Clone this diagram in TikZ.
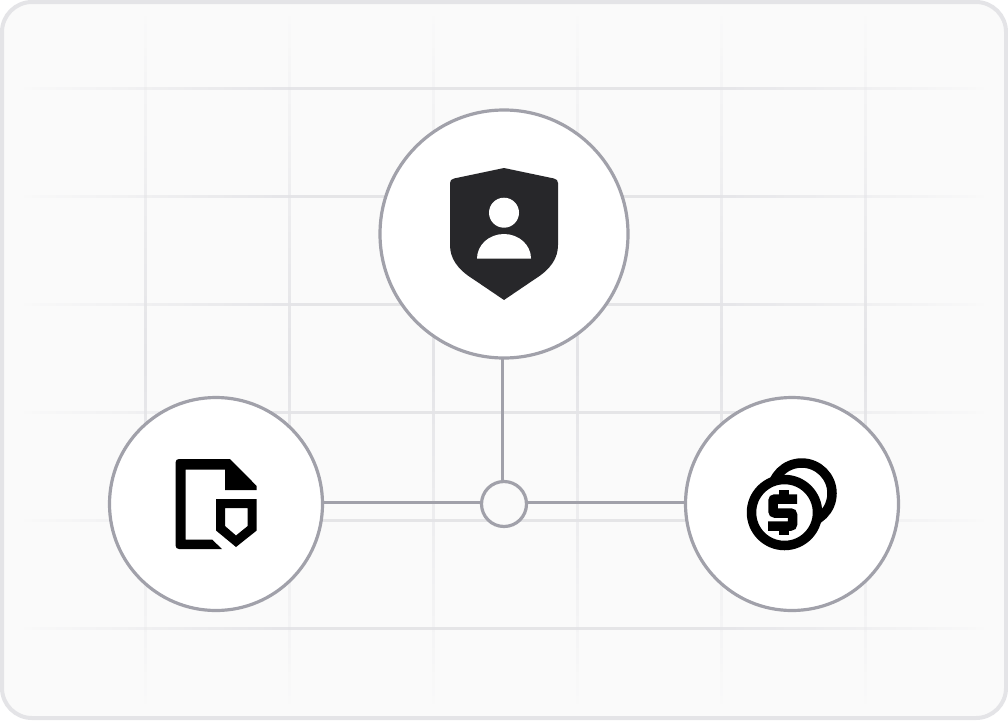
\documentclass[tikz,border=0pt]{standalone}
\definecolor{panelbg}{HTML}{FAFAFA}
\definecolor{panelborder}{HTML}{E4E4E7}
\definecolor{ringcol}{HTML}{A1A1AA}
\definecolor{shieldcol}{HTML}{27272A}
\tikzset{
  ringnode/.style={circle, draw=ringcol, line width=3.2pt, fill=white, inner sep=0pt, outer sep=0pt},
  linkline/.style={draw=ringcol, line width=3.2pt},
  iconblack/.style={fill=black}
}
\begin{document}
\begin{tikzpicture}[x=1pt,y=-1pt]
\useasboundingbox (0,0) rectangle (1008,720);
\fill[white] (0,0) rectangle (1008,720);
\fill[panelbg] (2,2) [rounded corners=30pt] rectangle (1006,718);
% grid: short abutting pieces whose opacity ramps towards the panel edges
\foreach \xa in {24,32,...,976}{
  \pgfmathsetmacro{\op}{max(0,min(0.95,(min(\xa+4-16,992-\xa-4))/300))}
  \foreach \yy in {87,195,303,411,519,627}
    \fill[panelborder, fill opacity=\op] (\xa,\yy) rectangle (\xa+8,\yy+3);
}
\foreach \ya in {16,24,...,696}{
  \pgfmathsetmacro{\op}{max(0,min(1,(min(\ya+4-12,708-\ya-4))/350))}
  \foreach \xx in {144,288,432,576,720,864}
    \fill[panelborder, fill opacity=\op] (\xx,\ya) rectangle (\xx+3,\ya+8);
}
\draw[panelborder, line width=4pt, rounded corners=30pt] (2,2) rectangle (1006,718);
% nodes
\node[ringnode, minimum size=248pt] (shieldnode) at (504,234) {};
\node[ringnode, minimum size=213pt] (docnode) at (216,504) {};
\node[ringnode, minimum size=213pt] (coinnode) at (792,504) {};
\node[circle, draw=ringcol, line width=3.2pt, fill=panelbg, inner sep=0pt, outer sep=0pt, minimum size=45pt] (hub) at (504,504) {};
% connectors
\draw[linkline] ([xshift=-1.5pt]shieldnode.south) -- ([xshift=-1.5pt]hub.north);
\draw[linkline] ([yshift=1.5pt]docnode.east) -- ([yshift=1.5pt]hub.west);
\draw[linkline] ([yshift=1.5pt]hub.east) -- ([yshift=1.5pt]coinnode.west);
% shield icon
\fill[shieldcol] (504,168) -- (554,178.5) .. controls (556.5,179) and (558,180.5) .. (558,183)
  -- (558,245) .. controls (558,258) and (551,269) .. (535,279) -- (504,300) -- (473,279)
  .. controls (457,269) and (450,258) .. (450,245) -- (450,183)
  .. controls (450,180.5) and (451.5,179) .. (454,178.5) -- cycle;
\fill[white] (504,212.7) circle[radius=15];
\fill[white] (477,258.5) arc[start angle=180, end angle=0, x radius=27, y radius=-24.5] -- cycle;
% document icon
\fill[iconblack] (179,459) -- (230,459) -- (256.7,486) -- (256.7,490) -- (225,490) -- (225,469.5)
  -- (185.5,469.5) -- (185.5,539.5) -- (212,539.5) -- (222,549) -- (179,549)
  .. controls (177,549) and (175.7,547.7) .. (175.7,546) -- (175.7,462)
  .. controls (175.7,460.3) and (177,459) .. (179,459) -- cycle;
\fill[iconblack, even odd rule] (216,499) -- (256.7,499) -- (256.7,530.5) -- (236,547) -- (216,530.5) -- cycle
  (225,508) -- (225,526) -- (236,535.5) -- (247.7,526) -- (247.7,508) -- cycle;
% coins icon
\draw[black, line width=9.5pt] (801.7,493.3) circle[radius=30.3];
\draw[black, fill=white, line width=9.5pt] (784.5,512.5) circle[radius=33];
\draw[black, line width=9.5pt, rounded corners=2pt] (797,499) -- (773,499) -- (773,513) -- (792.5,513) -- (792.5,526) -- (768,526);
\fill[black] (778.5,490) rectangle (788.5,497);
\fill[black] (778.5,528) rectangle (788.5,535);
\end{tikzpicture}
\end{document}
